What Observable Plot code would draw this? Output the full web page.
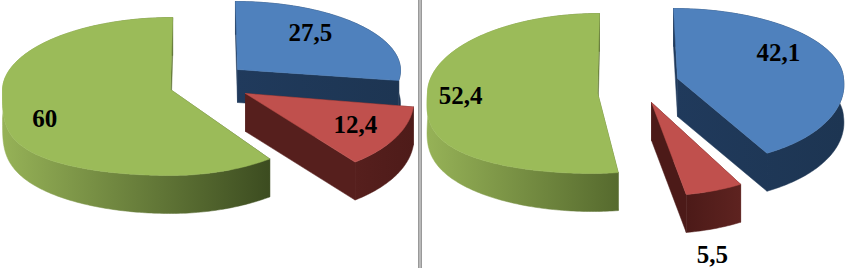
<!DOCTYPE html>
<html><head><meta charset="utf-8">
<script src="https://cdn.jsdelivr.net/npm/d3@7"></script>
<script src="https://cdn.jsdelivr.net/npm/@observablehq/plot@0.6"></script>
<style>html,body{margin:0;padding:0;background:#fff}svg{display:block}</style>
</head><body><div id="chart"></div>
<script>
const categories = ["blue", "red", "green"];
const leftValues = [27.5, 12.4, 60];
const rightValues = [42.1, 5.5, 52.4];

const topColors = {blue: "#4f81bd", red: "#c0504d", green: "#9bbb59"};
const sideColors = {
  left:  {blue: ["#203a5c", "#1d3552"], red: ["#561f1d", "#4e1b19"], green: ["#96b257", "#3c4c20"]},
  right: {blue: ["#203a5c", "#1d3552"], red: ["#4c1a18", "#5e2320"], green: ["#96b257", "#566a2e"]}
};

const depth = 38;
// per-slice layout of the exploded perspective pies
const layout = {
  left: {
    blue:  {cx: 237, cy: 69, rx: 163, up: 68, down: 70, ku: 0.03, k: 0.03, p: 1, thin: 0, depth: 33, r: 0.7, dx: -13, dy: -6},
    red:   {cx: 245, cy: 93, rx: 168, up: 70, down: 85, ku: 0, k: 0.15, p: 1, thin: 0, depth, r: 0.7, dx: 5, dy: 0},
    green: {cx: 170, cy: 89, rx: 168, up: 72, down: 86, ku: -0.03, k: 0, p: 0.55, thin: 0.25, depth, r: 0.8, dx: 2, dy: 8}
  },
  right: {
    blue:  {cx: 677, cy: 78, rx: 166, up: 70, down: 85, ku: 0.057, k: 0.14, p: 1, thin: 0, depth, r: 0.7, dx: -11, dy: -13},
    red:   {cx: 651, cy: 102, rx: 170, up: 70, down: 93, ku: 0, k: 0.1, p: 1, thin: 0, depth, r: 1, dx: -2, dy: 64},
    green: {cx: 597, cy: 92, rx: 170, up: 79, down: 81, ku: -0.025, k: -0.06, p: 0.65, thin: 0.25, depth, r: 0.8, dx: -1, dy: -1}
  }
};

// position on a slice's perspective rim; the front-left quarter is fuller than a true ellipse
function point(s, deg, r = 1, rim = false) {
  const a = deg * Math.PI / 180, c = Math.cos(a), sn = Math.sin(a);
  const front = rim && sn < 0 && c < 0 ? Math.pow(-c, s.p) : -c;
  const dy = c >= 0 ? -c * s.up * r : front * s.down * r;
  const thick = s.depth * (sn < 0 ? 1 - s.thin * sn * sn : 1);
  return {x: s.cx + sn * s.rx * r + (c >= 0 ? s.ku : s.k) * dy, y: s.cy + dy, thick};
}
function arc(s, a0, a1) {
  const n = Math.max(2, Math.ceil(a1 - a0)), pts = [];
  for (let i = 0; i <= n; ++i) pts.push(point(s, a0 + (a1 - a0) * i / n, 1, true));
  return pts;
}
const drop = (p, d) => ({x: p.x, y: p.y + d});

function slices(name, values) {
  const total = d3.sum(values);
  let a = 0;
  return categories.map((c, i) => {
    const a0 = a, a1 = a + values[i] / total * 360; a = a1;
    return {side: name, cat: c, value: values[i], a0, a1, s: layout[name][c]};
  });
}
const all = [...slices("left", leftValues), ...slices("right", rightValues)];

const gid = d => `g-${d.side}-${d.cat}`;
function sideFill(d) { return `url(#${gid(d)})`; }

const marks = [];
marks.push((index, scales) => {
  const defs = d3.create("svg:defs");
  for (const d of all) {
    const cols = sideColors[d.side][d.cat];
    const pts = arc(d.s, d.a0, d.a1);
    const g = defs.append("linearGradient").attr("id", gid(d)).attr("gradientUnits", "userSpaceOnUse")
      .attr("x1", scales.x(d3.min(pts, p => p.x))).attr("x2", scales.x(d3.max(pts, p => p.x)))
      .attr("y1", 0).attr("y2", 0);
    g.append("stop").attr("offset", 0).attr("stop-color", cols[0]);
    g.append("stop").attr("offset", 1).attr("stop-color", cols[1]);
  }
  return defs.node();
});
const poly = (pts, fill) => Plot.line([...pts, pts[0]], {x: "x", y: "y", fill, stroke: fill, strokeWidth: 0.5, curve: "linear"});
for (const d of all) {
  const {s, a0, a1} = d, ap = {x: s.cx, y: s.cy};
  const rim = arc(s, a0, a1);
  const first = rim[0], last = rim[rim.length - 1];
  const fill = sideFill(d);
  marks.push(poly([ap, first, drop(first, first.thick), drop(ap, s.depth)], fill));
  marks.push(poly([ap, last, drop(last, last.thick), drop(ap, s.depth)], fill));
  marks.push(poly([...rim, ...rim.map(p => drop(p, p.thick)).reverse()], fill));
  marks.push(poly([ap, ...rim], topColors[d.cat]));
}
marks.push(Plot.ruleX([419.5], {x: d => d, stroke: "#999999", strokeWidth: 4}));
marks.push(Plot.ruleX([419.5], {x: d => d, stroke: "#c4c4c4", strokeWidth: 1.5}));
for (const d of all) {
  const p = point(d.s, (d.a0 + d.a1) / 2, d.s.r);
  marks.push(Plot.text([d], {
    x: () => p.x + d.s.dx, y: () => p.y + d.s.dy,
    text: v => String(v.value).replace(".", ","),
    fontSize: 25, fontWeight: "bold", fill: "#000", lineAnchor: "middle", textAnchor: "middle"
  }));
}

const chart = Plot.plot({
  width: 846, height: 268,
  marginTop: 0, marginRight: 0, marginBottom: 0, marginLeft: 0,
  x: {domain: [0, 846], axis: null},
  y: {domain: [268, 0], axis: null},
  style: {fontFamily: "'Liberation Serif', serif", background: "#fff"},
  marks
});
document.getElementById("chart").append(chart);
</script></body></html>
